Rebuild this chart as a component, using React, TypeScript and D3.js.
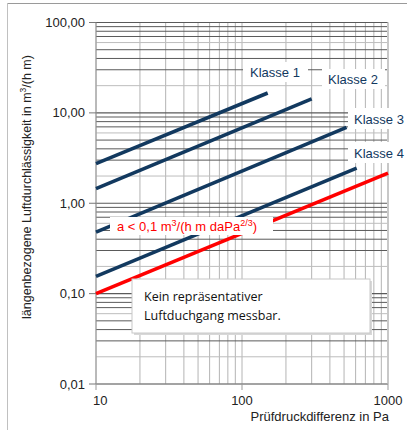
import React from "react";
import * as d3 from "d3";

const classNames = ["Klasse 1", "Klasse 2", "Klasse 3", "Klasse 4"];
const classP = [[10, 150], [10, 300], [10, 520], [10, 610]];
const classA = [[2.75, 16.6], [1.45, 14.3], [0.48, 6.9], [0.155, 2.45]];
const limitP = [10, 1000];
const limitA = [0.1, 2.15];
const xTicks = [10, 100, 1000];
const yTicks = [0.01, 0.1, 1, 10, 100];
const yTickLabels = ["0,01", "0,10", "1,00", "10,00", "100,00"];

const W = 407, H = 430;
const L = 96, R = 388, T = 22.5, B = 384;

export default function App() {
  const x = d3.scaleLog().domain([10, 1000]).range([L, R]);
  const y = d3.scaleLog().domain([0.01, 100]).range([B, T]);
  const line = d3.line<[number, number]>().x(d => x(d[0])).y(d => y(d[1]));

  const xMinor: number[] = [];
  for (let dec = 10; dec < 1000; dec *= 10) for (let m = 1; m < 10; m++) xMinor.push(dec * m);
  xMinor.push(1000);
  const yMinor: { v: number; m: number }[] = [];
  for (let dec = 0.01; dec < 99; dec *= 10) for (let m = 1; m < 10; m++) yMinor.push({ v: dec * m, m });
  yMinor.push({ v: 100, m: 1 });

  const font = "'Liberation Sans', Arial, sans-serif";
  const blue = "#12395f";
  const labelPos = [
    { bx: 243, by: 62, bw: 65, bh: 20, tx: 250, ty: 77 },
    { bx: 322, by: 69, bw: 63, bh: 20, tx: 328, ty: 84 },
    { bx: 348, by: 108, bw: 60, bh: 21, tx: 354, ty: 124 },
    { bx: 348, by: 142, bw: 60, bh: 21, tx: 354, ty: 158 },
  ];

  return (
    <svg width={W} height={H} style={{ position: "absolute", left: 0, top: 0, background: "#fff" }}>
      <rect x={0} y={0} width={W} height={H} fill="#fff" />
      <line x1={7} y1={3.5} x2={W} y2={3.5} stroke="#9a9a9a" />
      <line x1={7.5} y1={3} x2={7.5} y2={H} stroke="#c0c0c0" />
      {xMinor.map((v, i) => (
        <line key={"vx" + i} x1={x(v)} x2={x(v)} y1={T} y2={B} stroke="#b4b4b4" strokeWidth={1} />
      ))}
      {yMinor.map((d, i) => (
        <line key={"hy" + i} x1={L} x2={R} y1={y(d.v)} y2={y(d.v)}
          stroke={d.m === 2 || d.m === 6 ? "#bdbdbd" : "#5a5a5a"} strokeWidth={d.m === 1 ? 1.2 : 1} />
      ))}
      <line x1={R} x2={R} y1={T} y2={B} stroke="#c8c8c8" strokeWidth={2} />
      <line x1={L} x2={L} y1={T} y2={B} stroke="#9a9a9a" />
      <line x1={L} x2={R} y1={B} y2={B} stroke="#9a9a9a" />
      {yTicks.map((v, i) => (
        <g key={"yt" + i}>
          <line x1={L - 7} x2={L} y1={y(v)} y2={y(v)} stroke="#777" />
          <text x={85} y={y(v) + 4.5} textAnchor="end" fontFamily={font} fontSize={13} fill="#222">{yTickLabels[i]}</text>
        </g>
      ))}
      {xTicks.map((v, i) => (
        <g key={"xt" + i}>
          <line x1={x(v)} x2={x(v)} y1={B} y2={B + 6} stroke="#999" />
          <text x={i === 0 ? x(v) - 3 : x(v)} y={405} textAnchor={i === 0 ? "start" : "middle"} fontFamily={font} fontSize={13} fill="#222">{v}</text>
        </g>
      ))}
      {classNames.map((n, i) => (
        <path key={n} d={line([[classP[i][0], classA[i][0]], [classP[i][1], classA[i][1]]]) || ""}
          stroke={blue} strokeWidth={3.6} fill="none" />
      ))}
      <path d={line([[limitP[0], limitA[0]], [limitP[1], limitA[1]]]) || ""} stroke="#ff0000" strokeWidth={3.6} fill="none" />
      {classNames.map((n, i) => (
        <g key={"lb" + i}>
          <rect x={labelPos[i].bx} y={labelPos[i].by} width={labelPos[i].bw} height={labelPos[i].bh} fill="#fff" />
          <text x={labelPos[i].tx} y={labelPos[i].ty} fontFamily={font} fontSize={13} fill={blue}>{n}</text>
        </g>
      ))}
      <rect x={110} y={217} width={163} height={18} fill="#fff" />
      <text x={117} y={231} fontFamily={font} fontSize={13} fill="#ff0000">
        a &lt; 0,1 m<tspan fontSize={9} dy={-5}>3</tspan><tspan dy={5}>/(h m daPa</tspan><tspan fontSize={9} dy={-5}>2/3</tspan><tspan dy={5}>)</tspan>
      </text>
      <rect x={134} y={281} width={238} height={54} fill="#d8d8d8" />
      <rect x={132} y={279} width={238} height={54} fill="#fff" stroke="#c8c8c8" strokeWidth={1} />
      <text x={144} y={301} fontFamily="'Open Sans', sans-serif" fontSize={12.5} fill="#111">Kein repräsentativer</text>
      <text x={144} y={320} fontFamily="'Open Sans', sans-serif" fontSize={12.5} fill="#111">Luftduchgang messbar.</text>
      <text x={389} y={421} textAnchor="end" fontFamily={font} fontSize={13} fill="#222">Prüfdruckdifferenz in Pa</text>
      <text transform="translate(31,187) rotate(-90)" textAnchor="middle" fontFamily={font} fontSize={12.5} fill="#222">
        längenbezogene  Luftdurchlässigkeit in m<tspan fontSize={8.5} dy={-5}>3</tspan><tspan dy={5}>/(h m)</tspan>
      </text>
    </svg>
  );
}
